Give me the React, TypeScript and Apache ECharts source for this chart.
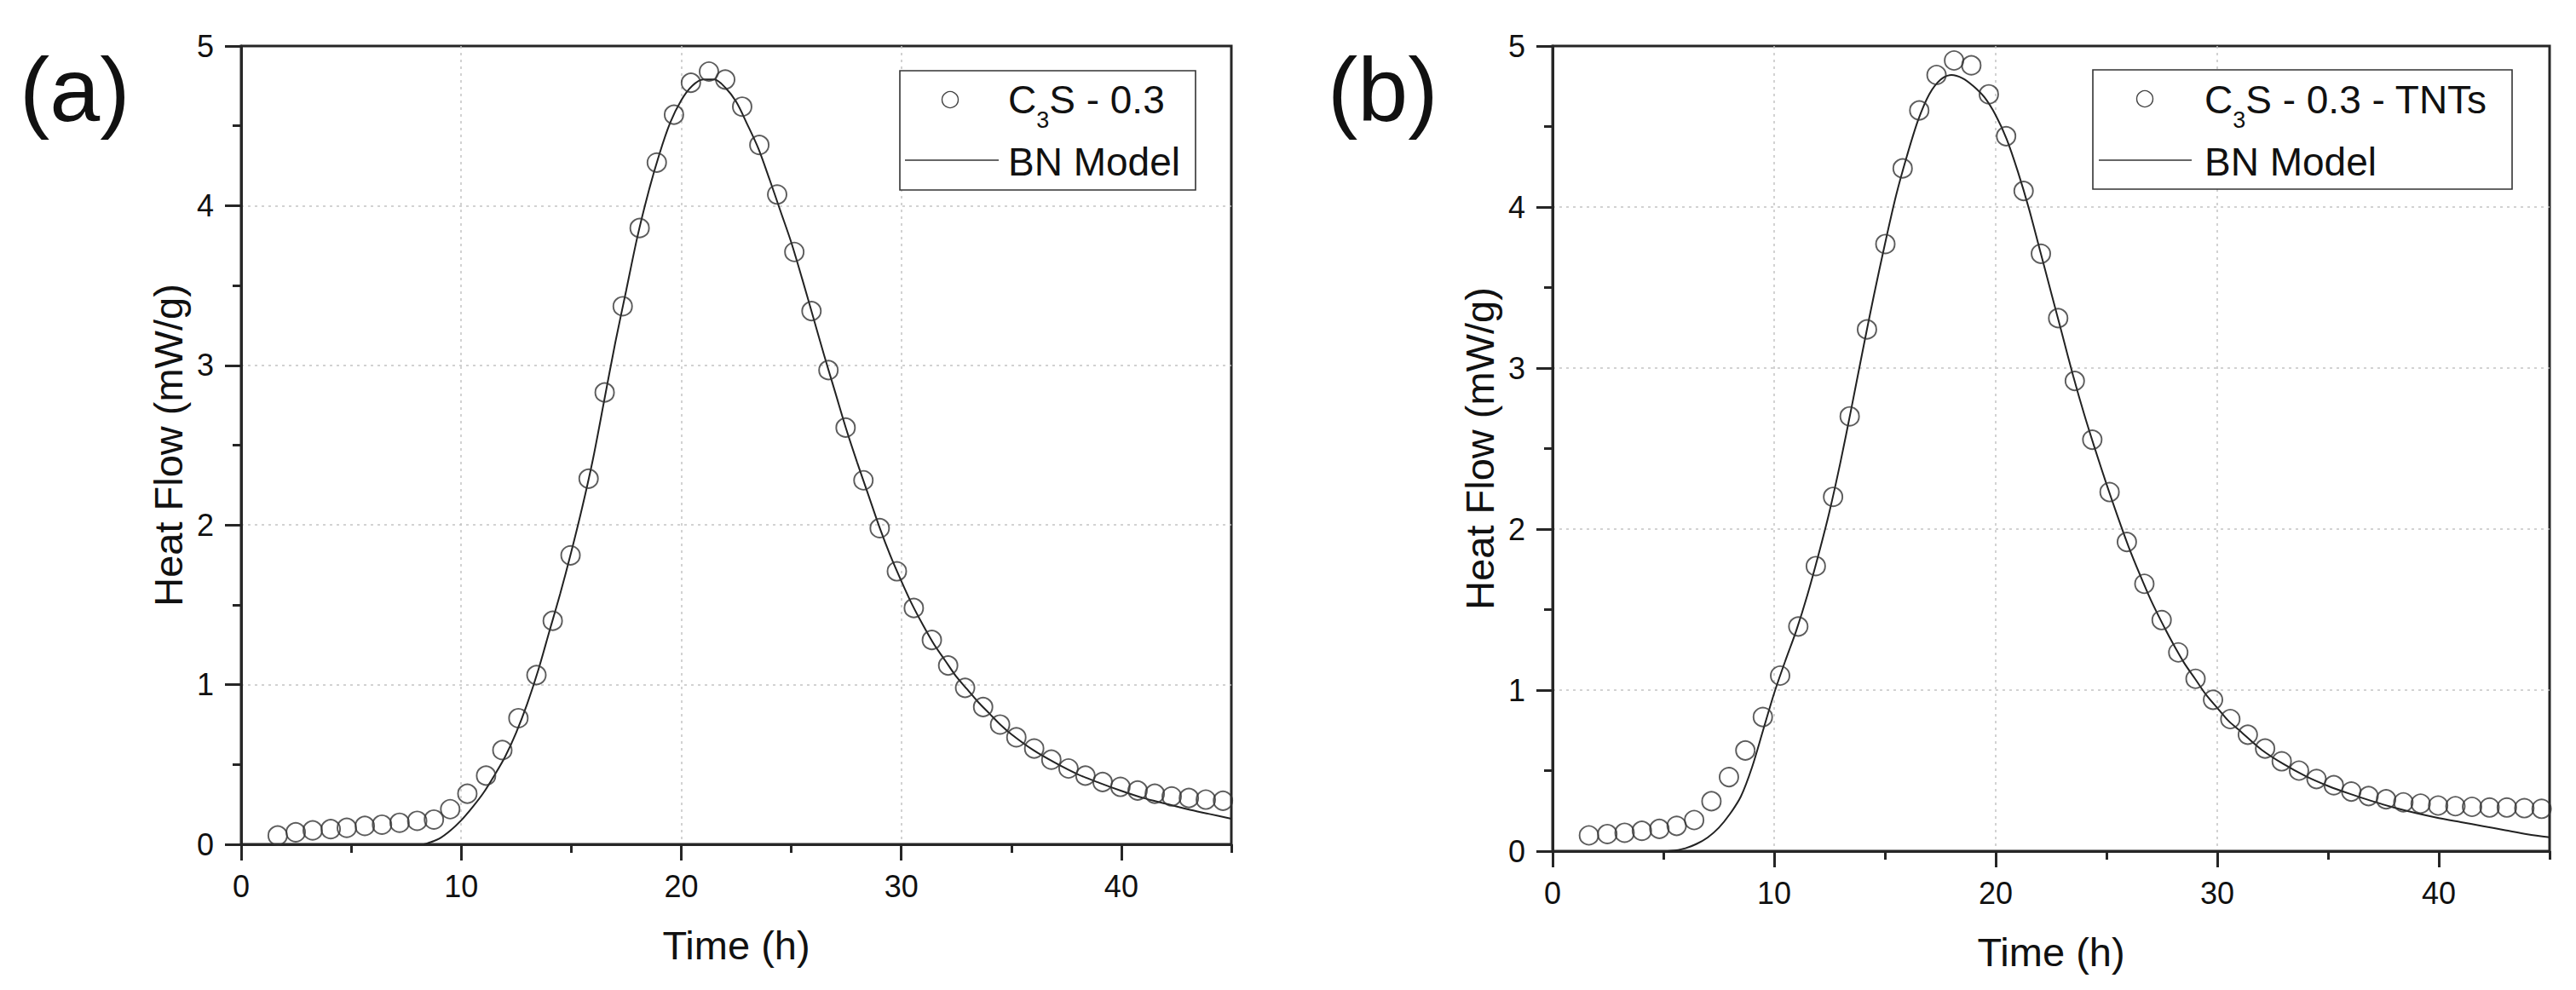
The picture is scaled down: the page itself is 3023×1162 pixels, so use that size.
import React, { useEffect, useRef } from "react";
import * as echarts from "echarts";

// ---- Data ----
const timeA = [1.66, 2.48, 3.25, 4.07, 4.8, 5.62, 6.4, 7.2, 8.0, 8.76, 9.5, 10.28, 11.13, 11.87, 12.6, 13.42, 14.16, 14.97, 15.79, 16.52, 17.34, 18.11, 18.89, 19.67, 20.44, 21.26, 22.0, 22.77, 23.55, 24.36, 25.14, 25.92, 26.69, 27.47, 28.28, 29.02, 29.8, 30.57, 31.39, 32.13, 32.9, 33.72, 34.49, 35.23, 36.04, 36.82, 37.6, 38.37, 39.15, 39.96, 40.74, 41.52, 42.29, 43.07, 43.84, 44.62];
const heatA = [0.055, 0.075, 0.087, 0.095, 0.103, 0.115, 0.123, 0.135, 0.147, 0.155, 0.22, 0.317, 0.43, 0.59, 0.79, 1.06, 1.4, 1.81, 2.29, 2.83, 3.37, 3.86, 4.27, 4.57, 4.77, 4.84, 4.79, 4.62, 4.38, 4.07, 3.71, 3.34, 2.97, 2.61, 2.28, 1.98, 1.71, 1.48, 1.28, 1.12, 0.98, 0.86, 0.75, 0.67, 0.6, 0.53, 0.475, 0.43, 0.39, 0.36, 0.337, 0.317, 0.3, 0.29, 0.28, 0.273];
const modelTimeA = [8.3, 8.5, 9, 9.5, 10, 10.5, 11, 11.5, 12, 12.5, 13, 13.5, 14, 14.5, 15, 15.5, 16, 16.5, 17, 17.5, 18, 18.5, 19, 19.5, 20, 20.5, 21, 21.5, 22, 22.5, 23, 23.5, 24, 24.5, 25, 25.5, 26, 26.5, 27, 27.5, 28, 28.5, 29, 29.5, 30, 30.5, 31, 31.5, 32, 32.5, 33, 33.5, 34, 34.5, 35, 36, 37, 38, 39, 40, 41, 42, 43, 44, 45];
const modelHeatA = [0, 0.008, 0.035, 0.085, 0.15, 0.23, 0.32, 0.43, 0.55, 0.7, 0.88, 1.09, 1.33, 1.57, 1.83, 2.11, 2.42, 2.78, 3.14, 3.47, 3.8, 4.08, 4.32, 4.52, 4.66, 4.75, 4.79, 4.79, 4.74, 4.65, 4.51, 4.36, 4.17, 3.97, 3.77, 3.54, 3.3, 3.06, 2.83, 2.6, 2.39, 2.19, 1.99, 1.81, 1.65, 1.5, 1.37, 1.25, 1.15, 1.05, 0.97, 0.89, 0.82, 0.75, 0.69, 0.59, 0.51, 0.44, 0.385, 0.335, 0.29, 0.255, 0.22, 0.19, 0.16];

const timeB = [1.64, 2.47, 3.25, 4.03, 4.82, 5.6, 6.39, 7.17, 7.96, 8.7, 9.49, 10.27, 11.09, 11.88, 12.66, 13.41, 14.19, 15.02, 15.8, 16.55, 17.33, 18.12, 18.9, 19.69, 20.47, 21.26, 22.04, 22.82, 23.57, 24.36, 25.14, 25.92, 26.71, 27.49, 28.24, 29.02, 29.81, 30.59, 31.38, 32.16, 32.91, 33.69, 34.48, 35.26, 36.05, 36.83, 37.62, 38.4, 39.18, 39.97, 40.75, 41.5, 42.29, 43.07, 43.86, 44.64];
const heatB = [0.098, 0.106, 0.114, 0.126, 0.138, 0.157, 0.193, 0.31, 0.46, 0.625, 0.833, 1.09, 1.395, 1.77, 2.2, 2.7, 3.24, 3.77, 4.24, 4.6, 4.82, 4.91, 4.88, 4.7, 4.44, 4.1, 3.71, 3.31, 2.92, 2.555, 2.23, 1.92, 1.66, 1.435, 1.234, 1.07, 0.94, 0.82, 0.723, 0.637, 0.558, 0.5, 0.448, 0.409, 0.37, 0.342, 0.322, 0.303, 0.295, 0.283, 0.279, 0.275, 0.271, 0.271, 0.267, 0.263];
const modelTimeB = [5.2, 5.5, 6, 6.5, 7, 7.5, 8, 8.5, 9, 9.5, 10, 10.5, 11, 11.5, 12, 12.5, 13, 13.5, 14, 14.5, 15, 15.5, 16, 16.5, 17, 17.5, 18, 18.5, 19, 19.5, 20, 20.5, 21, 21.5, 22, 22.5, 23, 23.5, 24, 24.5, 25, 25.5, 26, 26.5, 27, 27.5, 28, 28.5, 29, 29.5, 30, 30.5, 31, 32, 33, 34, 35, 36, 37, 38, 39, 40, 41, 42, 43, 44, 45];
const modelHeatB = [0, 0.004, 0.018, 0.045, 0.085, 0.145, 0.23, 0.34, 0.52, 0.75, 0.98, 1.18, 1.37, 1.59, 1.84, 2.11, 2.42, 2.76, 3.11, 3.45, 3.77, 4.07, 4.32, 4.54, 4.7, 4.79, 4.82, 4.8, 4.75, 4.68, 4.57, 4.42, 4.22, 3.99, 3.73, 3.47, 3.21, 2.95, 2.71, 2.49, 2.28, 2.08, 1.89, 1.72, 1.56, 1.42, 1.29, 1.17, 1.07, 0.97, 0.89, 0.81, 0.75, 0.63, 0.54, 0.465, 0.405, 0.355, 0.31, 0.27, 0.235, 0.205, 0.18, 0.155, 0.13, 0.105, 0.086];

const xMajorTicks = [0, 10, 20, 30, 40];
const xMinorTicks = [5, 15, 25, 35, 45];
const panelLabels = ["(a)", "(b)"];
const scatterNames = ["C3S - 0.3", "C3S - 0.3 - TNTs"];
const legendMain = ["S - 0.3", "S - 0.3 - TNTs"];
const modelName = "BN Model";
const xTitle = "Time (h)";
const yTitle = "Heat Flow (mW/g)";

const FONT = "'Liberation Sans', Arial, Helvetica, sans-serif";
const AX = "#262626";
const TXT = "#111";

const zip = (xs: number[], ys: number[]) => xs.map((x, i) => [x, ys[i]]);

function buildOption() {
  const grids = [
    { left: 283, top: 54, width: 1162, height: 937 },
    { left: 1822, top: 54, width: 1170, height: 945 },
  ];
  const split = { show: true, showMinLine: false, showMaxLine: false, lineStyle: { color: "#c4c4c4", width: 1.5, type: [3, 5] } };
  const xAxes: any[] = [];
  const yAxes: any[] = [];
  grids.forEach((_, g) => {
    xAxes.push({
      type: "value", gridIndex: g, min: 0, max: 45, interval: 10, position: "bottom",
      name: xTitle, nameLocation: "middle", nameGap: 95,
      nameTextStyle: { fontSize: 47, color: TXT, fontFamily: FONT },
      axisLine: { show: true, onZero: false, lineStyle: { color: AX, width: 3 } },
      axisTick: { show: true, inside: false, length: 19, customValues: xMajorTicks, lineStyle: { color: AX, width: 3 } },
      axisLabel: { show: true, margin: 31, fontSize: 36, color: TXT, fontFamily: FONT, customValues: xMajorTicks },
      splitLine: split,
      minorTick: { show: false },
    });
    xAxes.push({
      type: "value", gridIndex: g, min: 0, max: 45, interval: 5, position: "bottom",
      axisLine: { show: false },
      axisTick: { show: true, inside: false, length: 10, customValues: xMinorTicks, lineStyle: { color: AX, width: 3 } },
      axisLabel: { show: false },
      splitLine: { show: false },
    });
    yAxes.push({
      type: "value", gridIndex: g, min: 0, max: 5, interval: 1, position: "left",
      name: yTitle, nameLocation: "middle", nameGap: 62,
      nameTextStyle: { fontSize: 47, color: TXT, fontFamily: FONT },
      axisLine: { show: true, onZero: false, lineStyle: { color: AX, width: 3 } },
      axisTick: { show: true, inside: false, length: 19, lineStyle: { color: AX, width: 3 } },
      minorTick: { show: true, splitNumber: 2, length: 10, lineStyle: { color: AX, width: 3 } },
      axisLabel: { show: true, margin: 32, fontSize: 36, color: TXT, fontFamily: FONT },
      splitLine: split,
    });
  });

  const panels = [
    { pts: zip(timeA, heatA), model: zip(modelTimeA, modelHeatA) },
    { pts: zip(timeB, heatB), model: zip(modelTimeB, modelHeatB) },
  ];
  const series: any[] = [];
  panels.forEach((p, g) => {
    series.push({
      type: "line", name: modelName, xAxisIndex: g * 2, yAxisIndex: g, data: p.model,
      showSymbol: false, symbol: "none", smooth: 0.3, silent: true,
      lineStyle: { color: "#222", width: 2 }, z: 2,
    });
    series.push({
      type: "scatter", name: scatterNames[g], xAxisIndex: g * 2, yAxisIndex: g, data: p.pts,
      symbol: "circle", symbolSize: 22, silent: true,
      itemStyle: { color: "rgba(255,255,255,0)", borderColor: "#333", borderWidth: 1.9 }, z: 3,
    });
  });

  const legends = [
    { box: [1056, 83, 347, 140], circ: [1115, 117], line: [1062, 1172], tx: 1183 },
    { box: [2456, 82, 492, 140], circ: [2517, 116], line: [2463, 2572], tx: 2587 },
  ];
  const graphics: any[] = [];
  const titlePos = [[23, 105], [1558, 105]];
  panelLabels.forEach((t, i) => {
    graphics.push({
      type: "text", x: titlePos[i][0], y: titlePos[i][1], z: 100,
      style: { text: t, font: `106px ${FONT}`, fill: TXT, align: "left", verticalAlign: "middle" },
    });
  });
  legends.forEach((L, i) => {
    const fs = 46;
    const sub = 27;
    graphics.push({
      type: "rect", z: 100,
      shape: { x: L.box[0], y: L.box[1], width: L.box[2], height: L.box[3] },
      style: { fill: "#fff", stroke: "#333", lineWidth: 1.6 },
    });
    graphics.push({
      type: "circle", z: 101,
      shape: { cx: L.circ[0], cy: L.circ[1], r: 9.5 },
      style: { fill: "none", stroke: "#444", lineWidth: 1.4 },
    });
    graphics.push({
      type: "text", z: 101, x: L.tx, y: 116.5,
      style: { text: "C", font: `${fs}px ${FONT}`, fill: TXT, align: "left", verticalAlign: "middle" },
    });
    const cw = 0.722 * fs;
    graphics.push({
      type: "text", z: 101, x: L.tx + cw, y: 141,
      style: { text: "3", font: `${sub}px ${FONT}`, fill: TXT, align: "left", verticalAlign: "middle" },
    });
    graphics.push({
      type: "text", z: 101, x: L.tx + cw + 0.556 * sub, y: 116.5,
      style: { text: legendMain[i], font: `${fs}px ${FONT}`, fill: TXT, align: "left", verticalAlign: "middle" },
    });
    graphics.push({
      type: "line", z: 101,
      shape: { x1: L.line[0], y1: 188, x2: L.line[1], y2: 188 },
      style: { stroke: "#333", lineWidth: 1.6 },
    });
    graphics.push({
      type: "text", z: 101, x: L.tx, y: 190,
      style: { text: modelName, font: `${fs}px ${FONT}`, fill: TXT, align: "left", verticalAlign: "middle" },
    });
  });

  return {
    animation: false,
    backgroundColor: "#fff",
    textStyle: { fontFamily: FONT },
    grid: grids.map((g) => ({ ...g, show: true, borderColor: AX, borderWidth: 3, backgroundColor: "transparent", containLabel: false })),
    xAxis: xAxes,
    yAxis: yAxes,
    series,
    graphic: { elements: graphics },
  };
}

export default function App() {
  const ref = useRef<HTMLDivElement>(null);
  useEffect(() => {
    if (!ref.current) return;
    const chart = echarts.init(ref.current, undefined, { renderer: "svg" });
    chart.setOption(buildOption() as any);
    return () => chart.dispose();
  }, []);
  return (
    <div
      ref={ref}
      style={{ position: "absolute", left: 0, top: 0, width: 3023, height: 1162, background: "#fff" }}
    />
  );
}
